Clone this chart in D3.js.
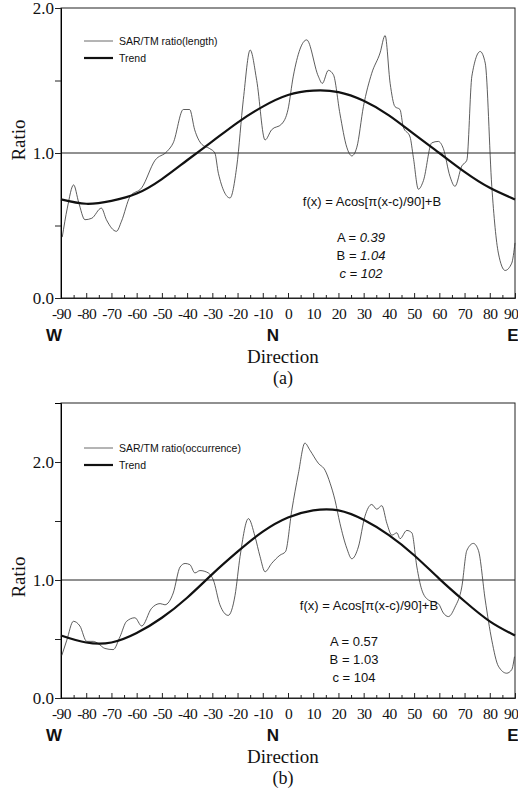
<!doctype html>
<html lang="en">
<head>
    <meta charset="utf-8">
    <title>SAR/TM ratio by direction</title>
    <script src="https://d3js.org/d3.v7.min.js"></script>
    <style>
        body { margin: 0; background: #fff; }
        svg text { fill: #111; }
        .serif { font-family: "Liberation Serif", "Times New Roman", serif; }
        .sans  { font-family: "Liberation Sans", Arial, sans-serif; }
    </style>
</head>
<body>
<script>
    // x tick labels (degrees from north)
    var dirTicks = [-90, -80, -70, -60, -50, -40, -30, -20, -10, 0, 10, 20, 30, 40, 50, 60, 70, 80, 90];
    var ratioTicks = [0, 1, 2];
    var ratioTickLabels = ["0.0", "1.0", "2.0"];

    // (a) SAR/TM ratio (length)
    var dirA = [-89.5, -87.5, -85, -83, -80.5, -77.8, -74, -72, -68, -66, -62.6, -58, -52.7, -48, -45.5,
        -41.5, -39, -37, -34.2, -31, -29, -27.6, -23, -20.3, -17.7, -15, -12.4, -9.1, -6.5, -2.5, 0,
        2.1, 7.4, 12, 13.6, 16, 18, 20.6, 23.3, 25.3, 27.3, 29.9, 33.2, 36.5, 38.5, 40.5, 42.4, 44.4,
        45.7, 48.4, 49.7, 51.7, 53.7, 57, 59.6, 61.6, 64.2, 66.2, 68.9, 70.9, 72.9, 76.2, 78.2, 80.8,
        83.4, 86.1, 88.7, 90];
    var ratioA = [0.42, 0.62, 0.78, 0.66, 0.54, 0.55, 0.62, 0.54, 0.46, 0.53, 0.70, 0.76, 0.95, 1.01, 1.07,
        1.30, 1.30, 1.16, 1.06, 1.03, 1.00, 0.86, 0.69, 0.91, 1.37, 1.71, 1.50, 1.09, 1.16, 1.20, 1.30,
        1.53, 1.78, 1.53, 1.48, 1.57, 1.54, 1.27, 1.04, 0.98, 1.04, 1.32, 1.55, 1.69, 1.81, 1.48, 1.32, 1.30,
        1.18, 1.11, 0.97, 0.75, 0.81, 1.07, 1.08, 1.03, 0.84, 0.77, 0.91, 0.95, 1.53, 1.70, 1.62, 0.77,
        0.31, 0.19, 0.24, 0.38];

    // (a) trend, every 10 degrees
    var trendA = [0.68, 0.65, 0.67, 0.72, 0.82, 0.95, 1.08, 1.21, 1.32, 1.40, 1.43, 1.42, 1.36, 1.26,
        1.13, 1.00, 0.87, 0.76, 0.68];

    // (b) SAR/TM ratio (occurrence)
    var dirB = [-89.7, -87.7, -85.1, -82.5, -79.8, -77.2, -75.2, -72.6, -69.3, -66.6, -64, -60.7, -58,
        -54.1, -50.7, -48.8, -45.5, -42.8, -40.8, -38.9, -36.9, -34.9, -31.6, -29.6, -27, -23.7, -21, -19,
        -15.7, -13.1, -11.1, -9.1, -6.5, -3.2, -1, 1.5, 4.1, 6.7, 8.7, 12, 14.7, 16.7, 18.6, 20.6, 23.3,
        25.3, 27.9, 30.5, 33.2, 35.2, 37.2, 39.2, 41.2, 43.2, 44.4, 47.1, 49.1, 51.1, 53, 55.7, 59.6,
        61.6, 63.6, 66.2, 68.9, 70.9, 73.5, 75.5, 78.2, 80.8, 83.4, 86.7, 88.7, 89.8];
    var ratioB = [0.36, 0.49, 0.65, 0.61, 0.48, 0.48, 0.46, 0.42, 0.41, 0.52, 0.65, 0.68, 0.61,
        0.76, 0.80, 0.79, 0.89, 1.11, 1.14, 1.13, 1.06, 1.08, 1.06, 1.00, 0.79, 0.70, 0.87, 1.20,
        1.52, 1.37, 1.20, 1.07, 1.14, 1.21, 1.24, 1.59, 1.90, 2.16, 2.10, 1.99, 1.93, 1.82, 1.68, 1.48, 1.27,
        1.18, 1.28, 1.54, 1.64, 1.60, 1.63, 1.48, 1.38, 1.40, 1.35, 1.42, 1.40, 1.11, 0.92, 0.83, 0.80,
        0.72, 0.69, 0.77, 0.94, 1.25, 1.31, 1.25, 0.83, 0.49, 0.27, 0.21, 0.24, 0.35];

    // (b) trend, every 10 degrees
    var trendB = [0.53, 0.47, 0.47, 0.55, 0.68, 0.85, 1.05, 1.24, 1.41, 1.53, 1.59, 1.59, 1.51, 1.38,
        1.21, 1.01, 0.82, 0.65, 0.53];

    var svg = d3.select("body").append("svg")
        .attr("width", 518)
        .attr("height", 792);

    function drawPanel(p)
    {
        var x = d3.scaleLinear().domain([-90, 90]).range([p.left, p.right]);
        var y = d3.scaleLinear().domain([0, p.yMax]).range([p.bottom, p.top]);
        var g = svg.append("g");

        // frame
        g.append("rect")
            .attr("x", p.left).attr("y", p.top)
            .attr("width", p.right - p.left).attr("height", p.bottom - p.top)
            .attr("fill", "none").attr("stroke", "#222").attr("stroke-width", 1);

        // reference line at ratio 1
        g.append("line")
            .attr("x1", p.left).attr("x2", p.right)
            .attr("y1", y(1)).attr("y2", y(1))
            .attr("stroke", "#222").attr("stroke-width", 1);

        // x axis: ticks point into the plot
        var xAxis = g.append("g")
            .attr("transform", "translate(0," + p.bottom + ")")
            .call(d3.axisBottom(x).tickValues(dirTicks).tickSize(-5).tickPadding(10)
                .tickFormat(function(d) { return d; }));
        g.append("g")
            .attr("transform", "translate(0," + p.bottom + ")")
            .call(d3.axisBottom(x).tickValues(d3.range(-85, 90, 10)).tickSize(-3).tickFormat(""))
            .select(".domain").remove();
        xAxis.select(".domain").attr("stroke", "#222");
        xAxis.selectAll("text")
            .attr("class", "serif")
            .style("font-size", "15.5px")
            .style("letter-spacing", "-0.5px")
            .attr("fill", "#111");
        // last label would run off the page: pin its right edge
        xAxis.selectAll(".tick").filter(function(d) { return d === 90; }).select("text")
            .attr("text-anchor", "end").attr("x", 3);

        // y axis
        var yAxis = g.append("g")
            .attr("transform", "translate(" + p.left + ",0)")
            .call(d3.axisLeft(y).tickValues(ratioTicks).tickSize(6).tickPadding(1)
                .tickFormat(function(d, i) { return ratioTickLabels[i]; }));
        g.append("g")
            .attr("transform", "translate(" + p.left + ",0)")
            .call(d3.axisLeft(y).tickValues([0.5, 1.5]).tickSize(6).tickFormat(""))
            .select(".domain").remove();
        yAxis.selectAll("text")
            .attr("class", "serif")
            .style("font-size", "17px")
            .attr("fill", "#111");
        g.selectAll(".tick line").attr("stroke", "#222");

        // data lines
        var ratioLine = d3.line()
            .x(function(d) { return x(d[0]); })
            .y(function(d) { return y(d[1]); })
            .curve(d3.curveMonotoneX);
        g.append("path")
            .datum(d3.zip(p.dirs, p.ratio))
            .attr("d", ratioLine)
            .attr("fill", "none").attr("stroke", "#333").attr("stroke-width", 0.8);

        var trendLine = d3.line()
            .x(function(d, i) { return x(dirTicks[i]); })
            .y(function(d) { return y(d); })
            .curve(d3.curveNatural);
        g.append("path")
            .datum(p.trend)
            .attr("d", trendLine)
            .attr("fill", "none").attr("stroke", "#111").attr("stroke-width", 2.2);

        // legend
        var lg = g.append("g").attr("class", "sans").style("font-size", "10.5px");
        lg.append("line").attr("x1", 84).attr("x2", 113).attr("y1", p.legendY).attr("y2", p.legendY)
            .attr("stroke", "#444").attr("stroke-width", 0.8);
        lg.append("text").attr("x", 119).attr("y", p.legendY).attr("dy", "0.35em").text(p.legendLabel);
        lg.append("line").attr("x1", 84).attr("x2", 113).attr("y1", p.legendY + 17).attr("y2", p.legendY + 17)
            .attr("stroke", "#111").attr("stroke-width", 2.2);
        lg.append("text").attr("x", 119).attr("y", p.legendY + 17).attr("dy", "0.35em").text("Trend");

        // fit equation
        var eq = g.append("g").attr("class", "sans").style("font-size", "13px").attr("text-anchor", "middle");
        eq.append("text").attr("x", p.eqX).attr("y", p.eqY).attr("dy", "0.35em")
            .text("f(x) = Acos[\u03c0(x-c)/90]+B");
        p.params.forEach(function(s, i) {
            var t = eq.append("text").attr("x", p.parX).attr("y", p.eqY + 36 + i * 18).attr("dy", "0.35em");
            t.append("tspan").attr("font-style", s[2] ? "italic" : null).text(s[0]);
            t.append("tspan").attr("font-style", p.italicValues ? "italic" : null).text(s[1]);
        });

        // compass letters
        var cp = g.append("g").attr("class", "sans").style("font-size", "17px").style("font-weight", "bold")
            .attr("text-anchor", "middle");
        cp.append("text").attr("x", x(-90) - 7).attr("y", p.bottom + 37).attr("dy", "0.35em").text("W");
        cp.append("text").attr("x", x(0) - 15).attr("y", p.bottom + 37).attr("dy", "0.35em").text("N");
        cp.append("text").attr("x", x(90) - 2).attr("y", p.bottom + 37).attr("dy", "0.35em").text("E");

        // axis titles
        g.append("text").attr("class", "serif").style("font-size", "19px")
            .attr("text-anchor", "middle")
            .attr("x", 283).attr("y", p.bottom + 58).attr("dy", "0.35em")
            .text("Direction");
        g.append("text").attr("class", "serif").style("font-size", "18px")
            .attr("text-anchor", "middle")
            .attr("x", 283).attr("y", p.bottom + 80).attr("dy", "0.35em")
            .text(p.caption);
        g.append("text").attr("class", "serif").style("font-size", "19px")
            .attr("text-anchor", "middle")
            .attr("transform", "translate(18," + p.ratioY + ") rotate(-90)")
            .attr("dy", "0.35em")
            .text("Ratio");
    }

    drawPanel({
        left: 61, right: 515, top: 8, bottom: 298, yMax: 2.0,
        dirs: dirA, ratio: ratioA, trend: trendA,
        legendY: 41, legendLabel: "SAR/TM ratio(length)",
        eqX: 372, eqY: 201, parX: 361,
        params: [["A = ", "0.39", false], ["B = ", "1.04", false], ["c = ", "102", true]],
        italicValues: true,
        ratioY: 140, caption: "(a)"
    });

    drawPanel({
        left: 61, right: 515, top: 403, bottom: 698, yMax: 2.5,
        dirs: dirB, ratio: ratioB, trend: trendB,
        legendY: 448, legendLabel: "SAR/TM ratio(occurrence)",
        eqX: 369, eqY: 605, parX: 354,
        params: [["A = ", "0.57", false], ["B = ", "1.03", false], ["c = ", "104", false]],
        italicValues: false,
        ratioY: 577, caption: "(b)"
    });
</script>
</body>
</html>
